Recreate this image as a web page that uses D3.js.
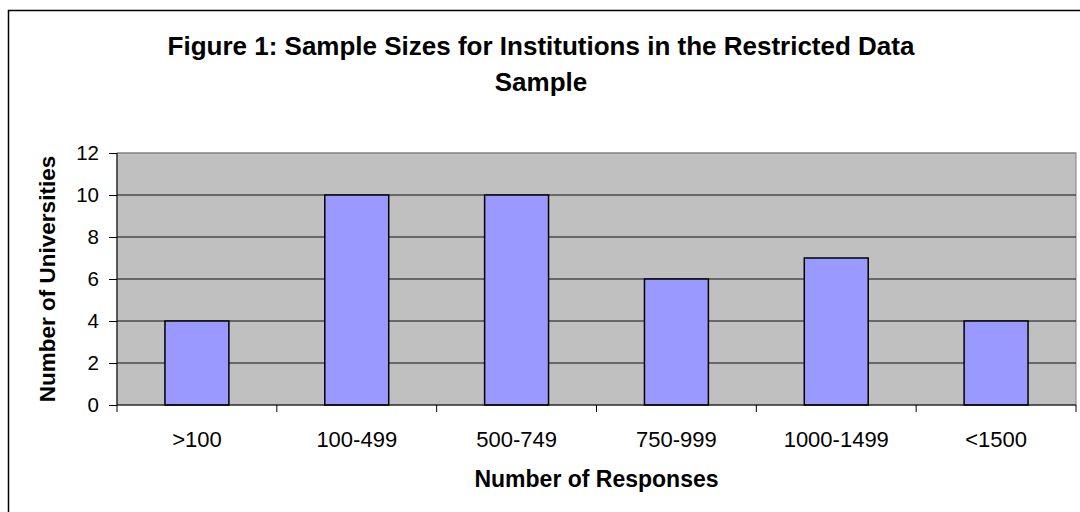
<!DOCTYPE html>
<html>
<head>
<meta charset="utf-8">
<script src="https://cdn.jsdelivr.net/npm/d3@7"></script>
<style>
  html, body { margin: 0; padding: 0; background: #fff; }
  svg { display: block; }
  text { font-family: "Liberation Sans", Arial, sans-serif; fill: #000; }
</style>
</head>
<body>
<svg id="chart" width="1080" height="512"></svg>
<script>
const categories = [">100", "100-499", "500-749", "750-999", "1000-1499", "<1500"];
const universities = [4, 10, 10, 6, 7, 4];
const yTicks = [0, 2, 4, 6, 8, 10, 12];
const titleLines = ["Figure 1: Sample Sizes for Institutions in the Restricted Data", "Sample"];
const xTitle = "Number of Responses";
const yTitle = "Number of Universities";

const svg = d3.select("#chart");
const W = 1080, H = 512;
const plot = { left: 117, right: 1076, top: 153, bottom: 405 };

// outer chart border (only top and left are inside the picture)
svg.append("path")
  .attr("d", `M8.5,${H + 5} V10.5 H${W + 5}`)
  .attr("fill", "none").attr("stroke", "#000").attr("stroke-width", 1.5);

const x = d3.scaleBand().domain(categories).range([plot.left, plot.right]).paddingInner(0.6).paddingOuter(0.3);
const xb = d3.scaleBand().domain(categories).range([plot.left, plot.right]);
const y = d3.scaleLinear().domain([0, 12]).range([plot.bottom, plot.top]);

// plot area background
svg.append("rect")
  .attr("x", plot.left).attr("y", plot.top)
  .attr("width", plot.right - plot.left).attr("height", plot.bottom - plot.top)
  .attr("fill", "#C0C0C0").attr("stroke", "#808080").attr("stroke-width", 1);

// gridlines
svg.append("g").selectAll("line").data(yTicks.filter(d => d > 0)).join("line")
  .attr("x1", plot.left).attr("x2", plot.right)
  .attr("y1", d => y(d)).attr("y2", d => y(d))
  .attr("stroke", d => d === 12 ? "#808080" : "#111").attr("stroke-width", 1);

// bars
svg.append("g").selectAll("rect").data(universities).join("rect")
  .attr("x", (d, i) => x(categories[i]))
  .attr("y", d => y(d))
  .attr("width", x.bandwidth())
  .attr("height", d => y(0) - y(d))
  .attr("fill", "#9999FF").attr("stroke", "#000").attr("stroke-width", 1.5);

// y axis
const yAxis = d3.axisLeft(y).tickValues(yTicks).tickSize(8).tickPadding(10).tickFormat(d3.format("d"));
const gy = svg.append("g").attr("transform", `translate(${plot.left},0)`).call(yAxis);
gy.select(".domain").attr("stroke", "#000").attr("d", `M0,${plot.top}V${plot.bottom}`);
gy.selectAll(".tick line").attr("stroke", "#000");
gy.selectAll("text").style("font-size", "20.5px").style("font-family", "Liberation Sans, Arial, sans-serif").attr("fill", "#000");

// x axis: ticks at category boundaries
const bounds = categories.map(c => xb(c)).concat([plot.right]);
const gx = svg.append("g");
gx.append("line").attr("x1", plot.left).attr("x2", plot.right)
  .attr("y1", plot.bottom).attr("y2", plot.bottom).attr("stroke", "#000");
gx.selectAll(".bt").data(bounds).join("line").attr("class", "bt")
  .attr("x1", d => d).attr("x2", d => d)
  .attr("y1", plot.bottom).attr("y2", plot.bottom + 7).attr("stroke", "#000");
gx.selectAll("text").data(categories).join("text")
  .attr("x", d => xb(d) + xb.bandwidth() / 2)
  .attr("y", 447)
  .attr("text-anchor", "middle")
  .style("font-size", "22px")
  .text(d => d);

// axis titles
svg.append("text")
  .attr("x", (plot.left + plot.right) / 2).attr("y", 487)
  .attr("text-anchor", "middle")
  .style("font-size", "23px").style("font-weight", "bold")
  .text(xTitle);

svg.append("text")
  .attr("transform", `translate(55,${(plot.top + plot.bottom) / 2}) rotate(-90)`)
  .attr("text-anchor", "middle")
  .style("font-size", "22.5px").style("font-weight", "bold")
  .text(yTitle);

// title
svg.append("g").selectAll("text").data(titleLines).join("text")
  .attr("x", 541).attr("y", (d, i) => 55 + i * 36)
  .attr("text-anchor", "middle")
  .style("font-size", "26px").style("font-weight", "bold")
  .text(d => d);
</script>
</body>
</html>
